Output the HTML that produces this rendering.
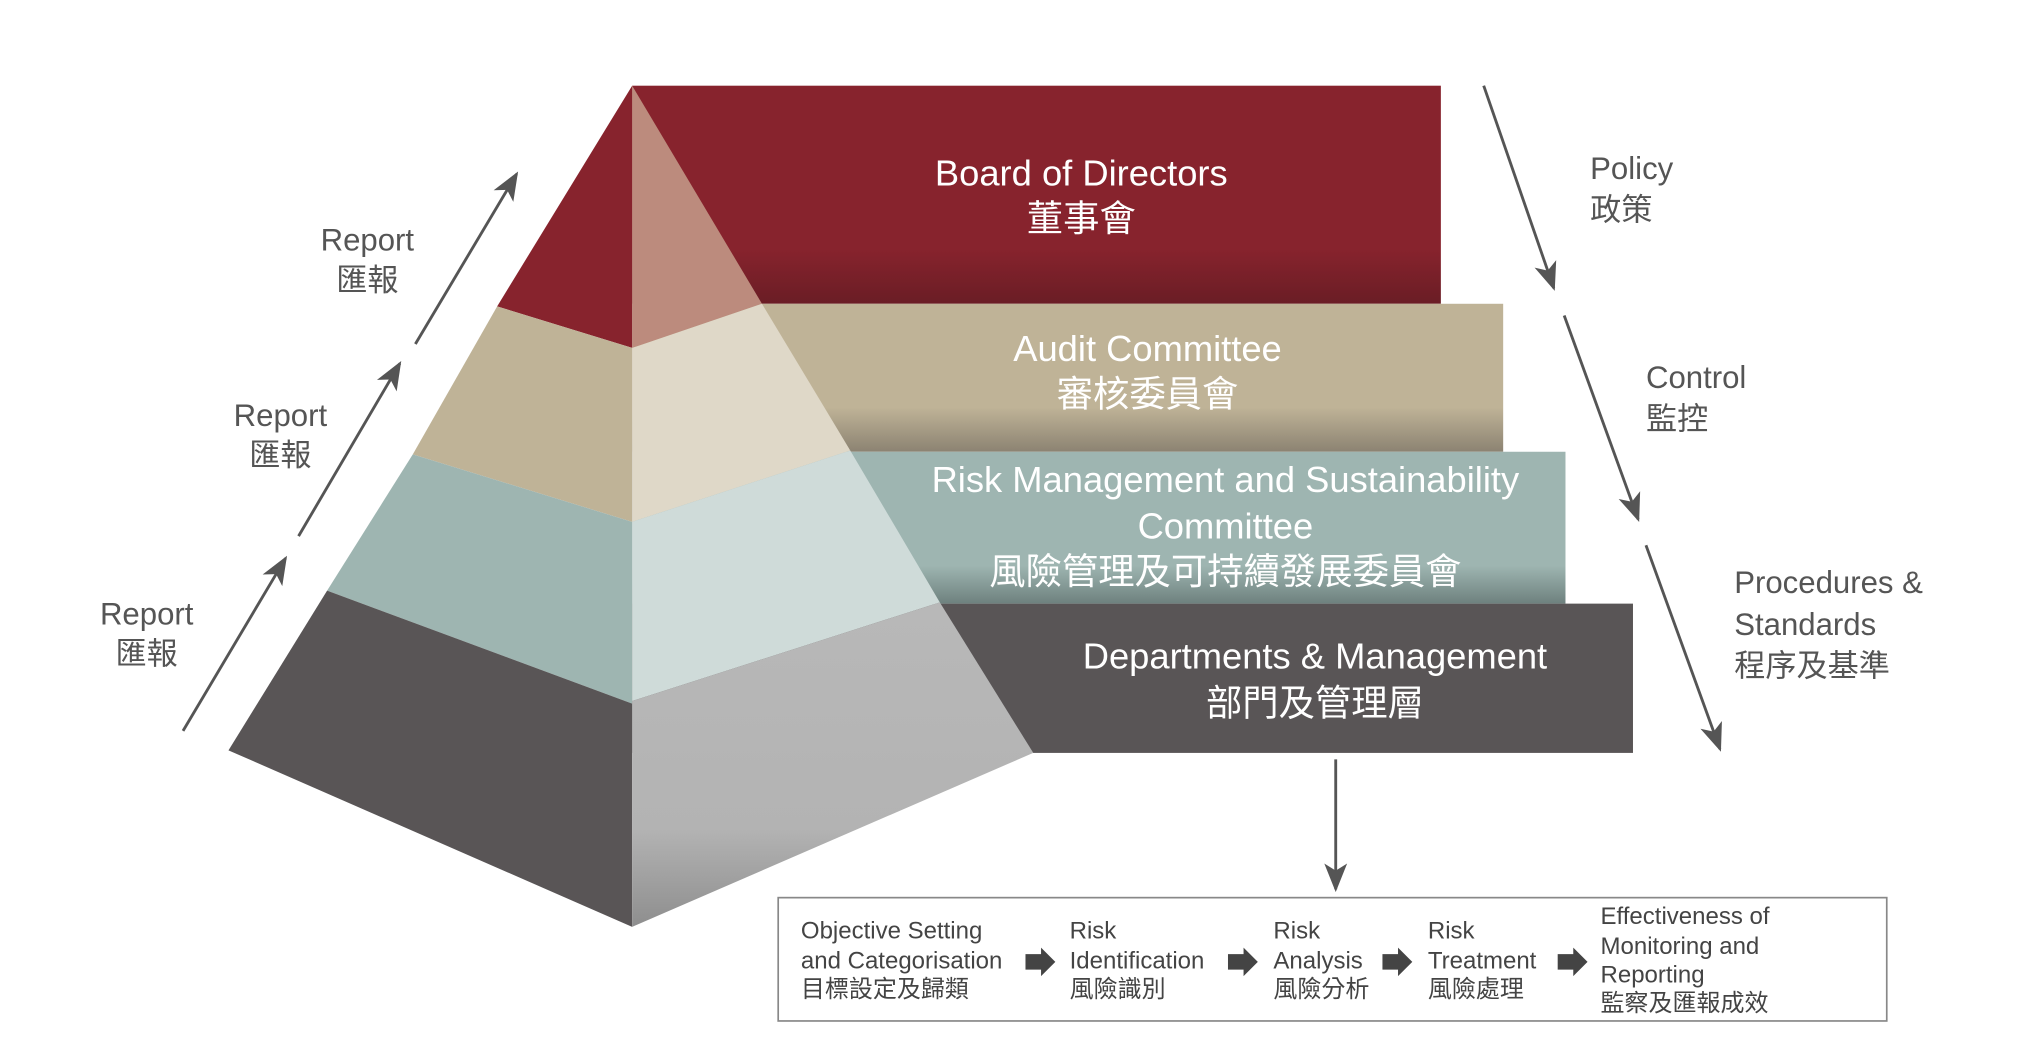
<!DOCTYPE html>
<html><head><meta charset="utf-8"><style>
html,body{margin:0;padding:0;background:#fff;}
svg{display:block;}
text{font-family:"Liberation Sans","Noto Sans CJK TC",sans-serif;}
.w{fill:#fff;font-size:28px;text-anchor:middle;}
.g{fill:#555;font-size:24px;}
.s{fill:#444;font-size:18.5px;font-family:"Liberation Sans Narrow","Liberation Sans","Noto Sans CJK TC",sans-serif;}
</style></head><body>
<svg width="2025" height="1045" viewBox="0 0 1560 805" xmlns="http://www.w3.org/2000/svg">
<defs>
<linearGradient id="gr" x1="0" y1="0" x2="0" y2="1"><stop offset="0.75" stop-color="#87232d"/><stop offset="1" stop-color="#6a1d25"/></linearGradient>
<linearGradient id="gt" x1="0" y1="0" x2="0" y2="1"><stop offset="0.7" stop-color="#bfb397"/><stop offset="1" stop-color="#8c8372"/></linearGradient>
<linearGradient id="gb" x1="0" y1="0" x2="0" y2="1"><stop offset="0.75" stop-color="#9eb5b1"/><stop offset="1" stop-color="#6e817e"/></linearGradient>
<linearGradient id="gg" x1="0" y1="0" x2="0" y2="1"><stop offset="0" stop-color="#b8b8b8"/><stop offset="0.7" stop-color="#b3b3b3"/><stop offset="1" stop-color="#8e8e8e"/></linearGradient>
<marker id="ah" viewBox="0 0 20 20" refX="18" refY="10" markerWidth="14" markerHeight="14" markerUnits="userSpaceOnUse" orient="auto"><path d="M0,2 L20,10 L0,18 L5,10 Z" fill="#555"/></marker>
<marker id="ah2" viewBox="0 0 20 20" refX="18" refY="10" markerWidth="22" markerHeight="22" markerUnits="userSpaceOnUse" orient="auto"><path d="M0,2 L20,10 L0,18 L5,10 Z" fill="#555"/></marker>
</defs>
<!-- boxes -->
<rect x="487" y="66" width="623" height="168" fill="url(#gr)"/>
<rect x="487" y="234" width="671" height="114" fill="url(#gt)"/>
<rect x="487" y="348" width="719" height="117" fill="url(#gb)"/>
<rect x="487" y="465" width="771" height="115" fill="#595556"/>
<!-- pyramid left face -->
<polygon points="487,66 383,236 487,268" fill="#87232d"/>
<polygon points="383,236 487,268 487,402 318,350" fill="#bfb397"/>
<polygon points="318,350 487,402 487,542 252,455" fill="#9eb5b1"/>
<polygon points="252,455 487,542 487,714 176,578" fill="#595556"/>
<!-- right face -->
<polygon points="487,66 587,234 487,268" fill="#bc8b7d"/>
<polygon points="587,234 655,347 487,402 487,268" fill="#dfd8c8"/>
<polygon points="655,347 724,464 487,540 487,402" fill="#cfdbd9"/>
<polygon points="724,464 796,580 487,714 487,540" fill="url(#gg)"/>
<!-- box texts -->
<text class="w" x="833" y="143">Board of Directors</text>
<text class="w" x="833" y="178">董事會</text>
<text class="w" x="884" y="278">Audit Committee</text>
<text class="w" x="884" y="313">審核委員會</text>
<text class="w" x="944" y="379">Risk Management and Sustainability</text>
<text class="w" x="944" y="415">Committee</text>
<text class="w" x="944" y="450">風險管理及可持續發展委員會</text>
<text class="w" x="1013" y="515">Departments &amp; Management</text>
<text class="w" x="1013" y="551">部門及管理層</text>
<!-- left arrows -->
<g stroke="#555" stroke-width="2.2" fill="none">
<line x1="320" y1="265" x2="398" y2="134" marker-end="url(#ah2)"/>
<line x1="230" y1="413" x2="308" y2="280" marker-end="url(#ah2)"/>
<line x1="141" y1="563" x2="220" y2="430" marker-end="url(#ah2)"/>
<line x1="1143" y1="66" x2="1197" y2="222" marker-end="url(#ah2)"/>
<line x1="1205" y1="243" x2="1262" y2="400" marker-end="url(#ah2)"/>
<line x1="1268" y1="420" x2="1325" y2="577" marker-end="url(#ah2)"/>
<line x1="1029" y1="585" x2="1029" y2="685" marker-end="url(#ah2)"/>
</g>
<text class="g" x="283" y="193" text-anchor="middle">Report</text>
<text class="g" x="283" y="224" text-anchor="middle">匯報</text>
<text class="g" x="216" y="328" text-anchor="middle">Report</text>
<text class="g" x="216" y="359" text-anchor="middle">匯報</text>
<text class="g" x="113" y="481" text-anchor="middle">Report</text>
<text class="g" x="113" y="512" text-anchor="middle">匯報</text>
<text class="g" x="1225" y="138">Policy</text>
<text class="g" x="1225" y="170">政策</text>
<text class="g" x="1268" y="299">Control</text>
<text class="g" x="1268" y="331">監控</text>
<text class="g" x="1336" y="457">Procedures &amp;</text>
<text class="g" x="1336" y="489">Standards</text>
<text class="g" x="1336" y="521">程序及基準</text>
<!-- process box -->
<rect x="599.5" y="691.5" width="854" height="95" fill="#fff" stroke="#888" stroke-width="1.3"/>
<g class="s">
<text class="s" x="617" y="723">Objective Setting</text>
<text class="s" x="617" y="746">and Categorisation</text>
<text class="s" x="617" y="768">目標設定及歸類</text>
<text class="s" x="824" y="723">Risk</text>
<text class="s" x="824" y="746">Identification</text>
<text class="s" x="824" y="768">風險識別</text>
<text class="s" x="981" y="723">Risk</text>
<text class="s" x="981" y="746">Analysis</text>
<text class="s" x="981" y="768">風險分析</text>
<text class="s" x="1100" y="723">Risk</text>
<text class="s" x="1100" y="746">Treatment</text>
<text class="s" x="1100" y="768">風險處理</text>
<text class="s" x="1233" y="712">Effectiveness of</text>
<text class="s" x="1233" y="735">Monitoring and</text>
<text class="s" x="1233" y="757">Reporting</text>
<text class="s" x="1233" y="779">監察及匯報成效</text>
</g>
<g fill="#444">
<polygon points="790,735 802,735 802,730 813,741 802,752 802,747 790,747"/>
<polygon points="946,735 958,735 958,730 969,741 958,752 958,747 946,747"/>
<polygon points="1065,735 1077,735 1077,730 1088,741 1077,752 1077,747 1065,747"/>
<polygon points="1200,735 1212,735 1212,730 1223,741 1212,752 1212,747 1200,747"/>
</g>
</svg>
</body></html>
